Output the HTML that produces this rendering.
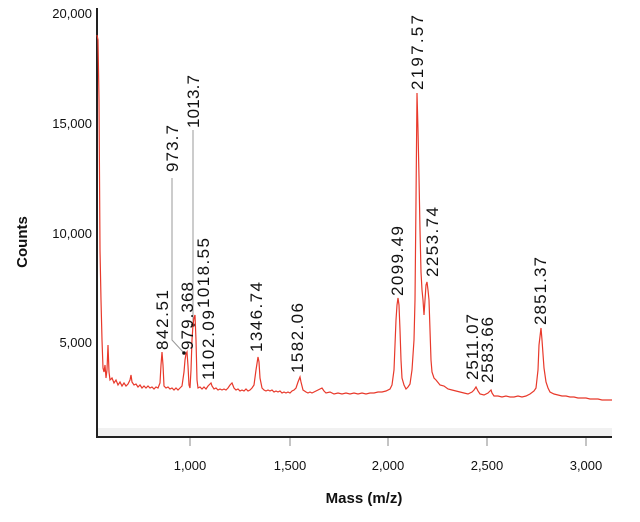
<!DOCTYPE html>
<html><head><meta charset="utf-8"><style>
html,body{margin:0;padding:0;background:#fff;}
svg{display:block;font-family:"Liberation Sans",Arial,sans-serif;}
</style></head><body>
<svg width="640" height="522" viewBox="0 0 640 522">
<rect x="98" y="428" width="514" height="8" fill="#f1f1f1"/>
<line x1="97" y1="8" x2="97" y2="437" stroke="#222" stroke-width="2"/>
<line x1="96" y1="437" x2="612" y2="437" stroke="#222" stroke-width="2"/>
<g stroke="#888" stroke-width="1">
<line x1="190" y1="438" x2="190" y2="446"/><line x1="290" y1="438" x2="290" y2="446"/>
<line x1="388" y1="438" x2="388" y2="446"/><line x1="487" y1="438" x2="487" y2="446"/>
<line x1="586" y1="438" x2="586" y2="446"/>
</g>
<g font-size="13" fill="#111" text-anchor="middle">
<text x="190" y="470">1,000</text><text x="290" y="470">1,500</text><text x="388" y="470">2,000</text>
<text x="487" y="470">2,500</text><text x="586" y="470">3,000</text>
</g>
<g font-size="13" fill="#111" text-anchor="end">
<text x="92" y="18">20,000</text><text x="92" y="128">15,000</text>
<text x="92" y="238">10,000</text><text x="92" y="347">5,000</text>
</g>
<text x="364" y="503" font-size="15" font-weight="bold" text-anchor="middle" fill="#111">Mass (m/z)</text>
<text transform="translate(27,242) rotate(-90)" font-size="15" font-weight="bold" text-anchor="middle" fill="#111">Counts</text>
<polyline fill="none" stroke="#999" stroke-width="1" points="172,178 172,340 184,353"/>
<polyline fill="none" stroke="#999" stroke-width="1" points="193,130 193,325"/>
<circle cx="184" cy="353" r="1.8" fill="#111"/><circle cx="193" cy="325" r="1.8" fill="#111"/>
<polyline fill="none" stroke="#e8392b" stroke-width="1.2" points="
97,35 98,40 99,100 100,250 101,300 102,340 103,368 104,372 105,365 106,378 107,370 108,345 109,372 110,380 112,378 114,383 116,380 118,385 120,382 122,386 124,383 126,386 128,384 130,380 131,375 132,382 134,385 136,384 138,387 140,385 142,388 144,386 146,388 148,386 150,388 152,387 154,389 156,387 158,388 160,383 161,365 162,352 163,365 164,386 166,388 168,387 170,389 172,388 174,390 176,388 178,390 180,388 182,386 184,372 185,360 186,354 187,352 188,366 189,385 190,388 191,370 192,340 193,325 194,318 195,315 196,340 197,380 198,388 200,387 202,389 204,387 206,389 208,386 210,384 211,383 212,386 214,389 216,388 218,390 220,389 222,390 224,389 226,390 228,388 230,385 232,383 234,388 236,390 238,389 240,391 242,390 244,391 246,389 248,391 250,390 252,388 254,385 256,370 258,357 259,362 260,378 262,388 264,390 266,391 268,390 270,391 272,390 274,392 276,391 278,392 280,391 282,393 284,392 286,393 288,392 290,393 292,391 294,390 296,388 298,382 300,377 301,382 303,390 306,392 308,393 310,392 312,393 314,392 316,391 318,390 320,389 322,388 324,391 326,393 330,392 334,394 338,393 342,394 346,393 350,394 354,393 358,394 362,393 366,394 370,393 374,393 378,392 382,392 386,391 390,389 392,385 394,370 396,320 397,305 398,298 399,305 400,330 401,360 402,378 404,385 406,389 408,387 410,384 412,370 414,340 415,300 416,200 417,93 418,130 419,177 420,230 421,272 422,290 423,300 424,315 425,300 426,285 427,282 428,290 429,300 430,330 431,360 432,372 434,378 436,380 440,385 444,386 448,389 452,390 456,391 460,392 464,393 468,394 470,393 472,392 474,390 476,387 478,391 480,394 484,395 488,393 490,391 491,390 492,393 494,396 498,396 502,397 506,396 510,397 514,397 518,396 522,397 526,396 530,394 534,391 536,388 538,370 539,345 541,328 542,340 544,368 546,382 548,388 550,392 554,394 558,395 562,396 566,396 570,397 574,397 578,398 582,398 586,398 590,399 594,399 598,399 602,400 606,400 612,400"/>
<g font-size="17" fill="#111">
<text transform="translate(168,350) rotate(-90)" textLength="60">842.51</text>
<text transform="translate(178,172) rotate(-90)" textLength="47">973.7</text>
<text transform="translate(193,350) rotate(-90)" textLength="68">979.368</text>
<text transform="translate(199,128) rotate(-90)" textLength="53">1013.7</text>
<text transform="translate(209,308) rotate(-90)" textLength="70">1018.55</text>
<text transform="translate(214,380) rotate(-90)" textLength="70">1102.09</text>
<text transform="translate(262,352) rotate(-90)" textLength="70">1346.74</text>
<text transform="translate(303,373) rotate(-90)" textLength="70">1582.06</text>
<text transform="translate(403,296) rotate(-90)" textLength="70">2099.49</text>
<text transform="translate(423,90) rotate(-90)" textLength="75">2197.57</text>
<text transform="translate(438,277) rotate(-90)" textLength="70">2253.74</text>
<text transform="translate(478,380) rotate(-90)" textLength="66">2511.07</text>
<text transform="translate(493,383) rotate(-90)" textLength="66">2583.66</text>
<text transform="translate(546,325) rotate(-90)" textLength="68">2851.37</text>
</g>
</svg>
</body></html>
